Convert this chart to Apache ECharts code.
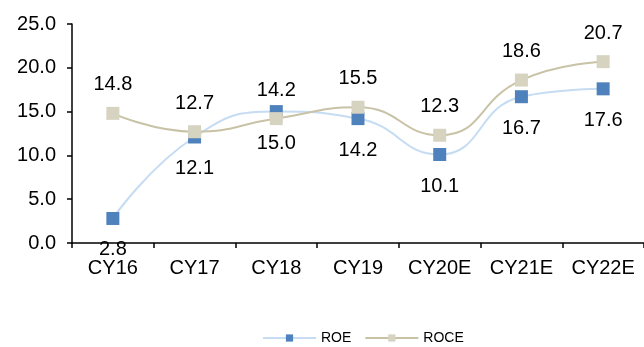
<!DOCTYPE html>
<html>
<head>
<meta charset="utf-8">
<script src="https://cdn.jsdelivr.net/npm/echarts@6/dist/echarts.min.js"></script>
<style>
html,body{margin:0;padding:0;background:#fff;}
#chart{width:644px;height:347px;}
</style>
</head>
<body>
<div id="chart"></div>
<script>
const categories = ['CY16', 'CY17', 'CY18', 'CY19', 'CY20E', 'CY21E', 'CY22E'];
const roe = [2.8, 12.1, 15.0, 14.2, 10.1, 16.7, 17.6];
const roce = [14.8, 12.7, 14.2, 15.5, 12.3, 18.6, 20.7];
const yTicks = [0, 5, 10, 15, 20, 25];

const FONT = '"Liberation Sans", Arial, sans-serif';
const chart = echarts.init(document.getElementById('chart'), null, {renderer: 'canvas'});
chart.setOption({
  animation: false,
  backgroundColor: '#ffffff',
  textStyle: {fontFamily: FONT, color: '#000'},
  grid: {left: 72, right: 0, top: 24, bottom: 104, containLabel: false},
  legend: {
    left: 257, top: 326,
    itemWidth: 53, itemHeight: 9, itemGap: 13,
    textStyle: {fontFamily: FONT, fontSize: 14, color: '#000'},
    data: ['ROE', 'ROCE']
  },
  xAxis: {
    type: 'category',
    data: categories,
    boundaryGap: true,
    axisLine: {lineStyle: {color: '#000', width: 1.5}},
    axisTick: {show: true, inside: false, length: 5, lineStyle: {color: '#000', width: 1.5}},
    axisLabel: {fontFamily: FONT, fontSize: 20, color: '#000', margin: 15, interval: 0},
    splitLine: {show: false}
  },
  yAxis: {
    type: 'value',
    min: yTicks[0], max: yTicks[yTicks.length - 1], interval: 5,
    axisLine: {show: true, lineStyle: {color: '#000', width: 1.5}},
    axisTick: {show: true, inside: false, length: 5, lineStyle: {color: '#000', width: 1.5}},
    axisLabel: {fontFamily: FONT, fontSize: 20, color: '#000', margin: 16,
      formatter: v => v.toFixed(1)},
    splitLine: {show: false}
  },
  series: [
    {
      name: 'ROE', type: 'line', data: roe, smooth: 0.5,
      symbol: 'rect', symbolSize: 13,
      lineStyle: {color: '#C5DCF2', width: 2},
      itemStyle: {color: '#4F81BD'},
      label: {show: true, position: 'bottom', distance: 15, fontFamily: FONT, fontSize: 20, color: '#000',
        lineHeight: 20, formatter: p => p.value.toFixed(1)},
      z: 2
    },
    {
      name: 'ROCE', type: 'line', data: roce, smooth: 0.5,
      symbol: 'rect', symbolSize: 13,
      lineStyle: {color: '#C8C3A6', width: 2},
      itemStyle: {color: '#D6D3C1'},
      label: {show: true, position: 'top', distance: 12, fontFamily: FONT, fontSize: 20, color: '#000',
        lineHeight: 20, formatter: p => p.value.toFixed(1)},
      z: 3
    }
  ]
});
</script>
</body>
</html>
